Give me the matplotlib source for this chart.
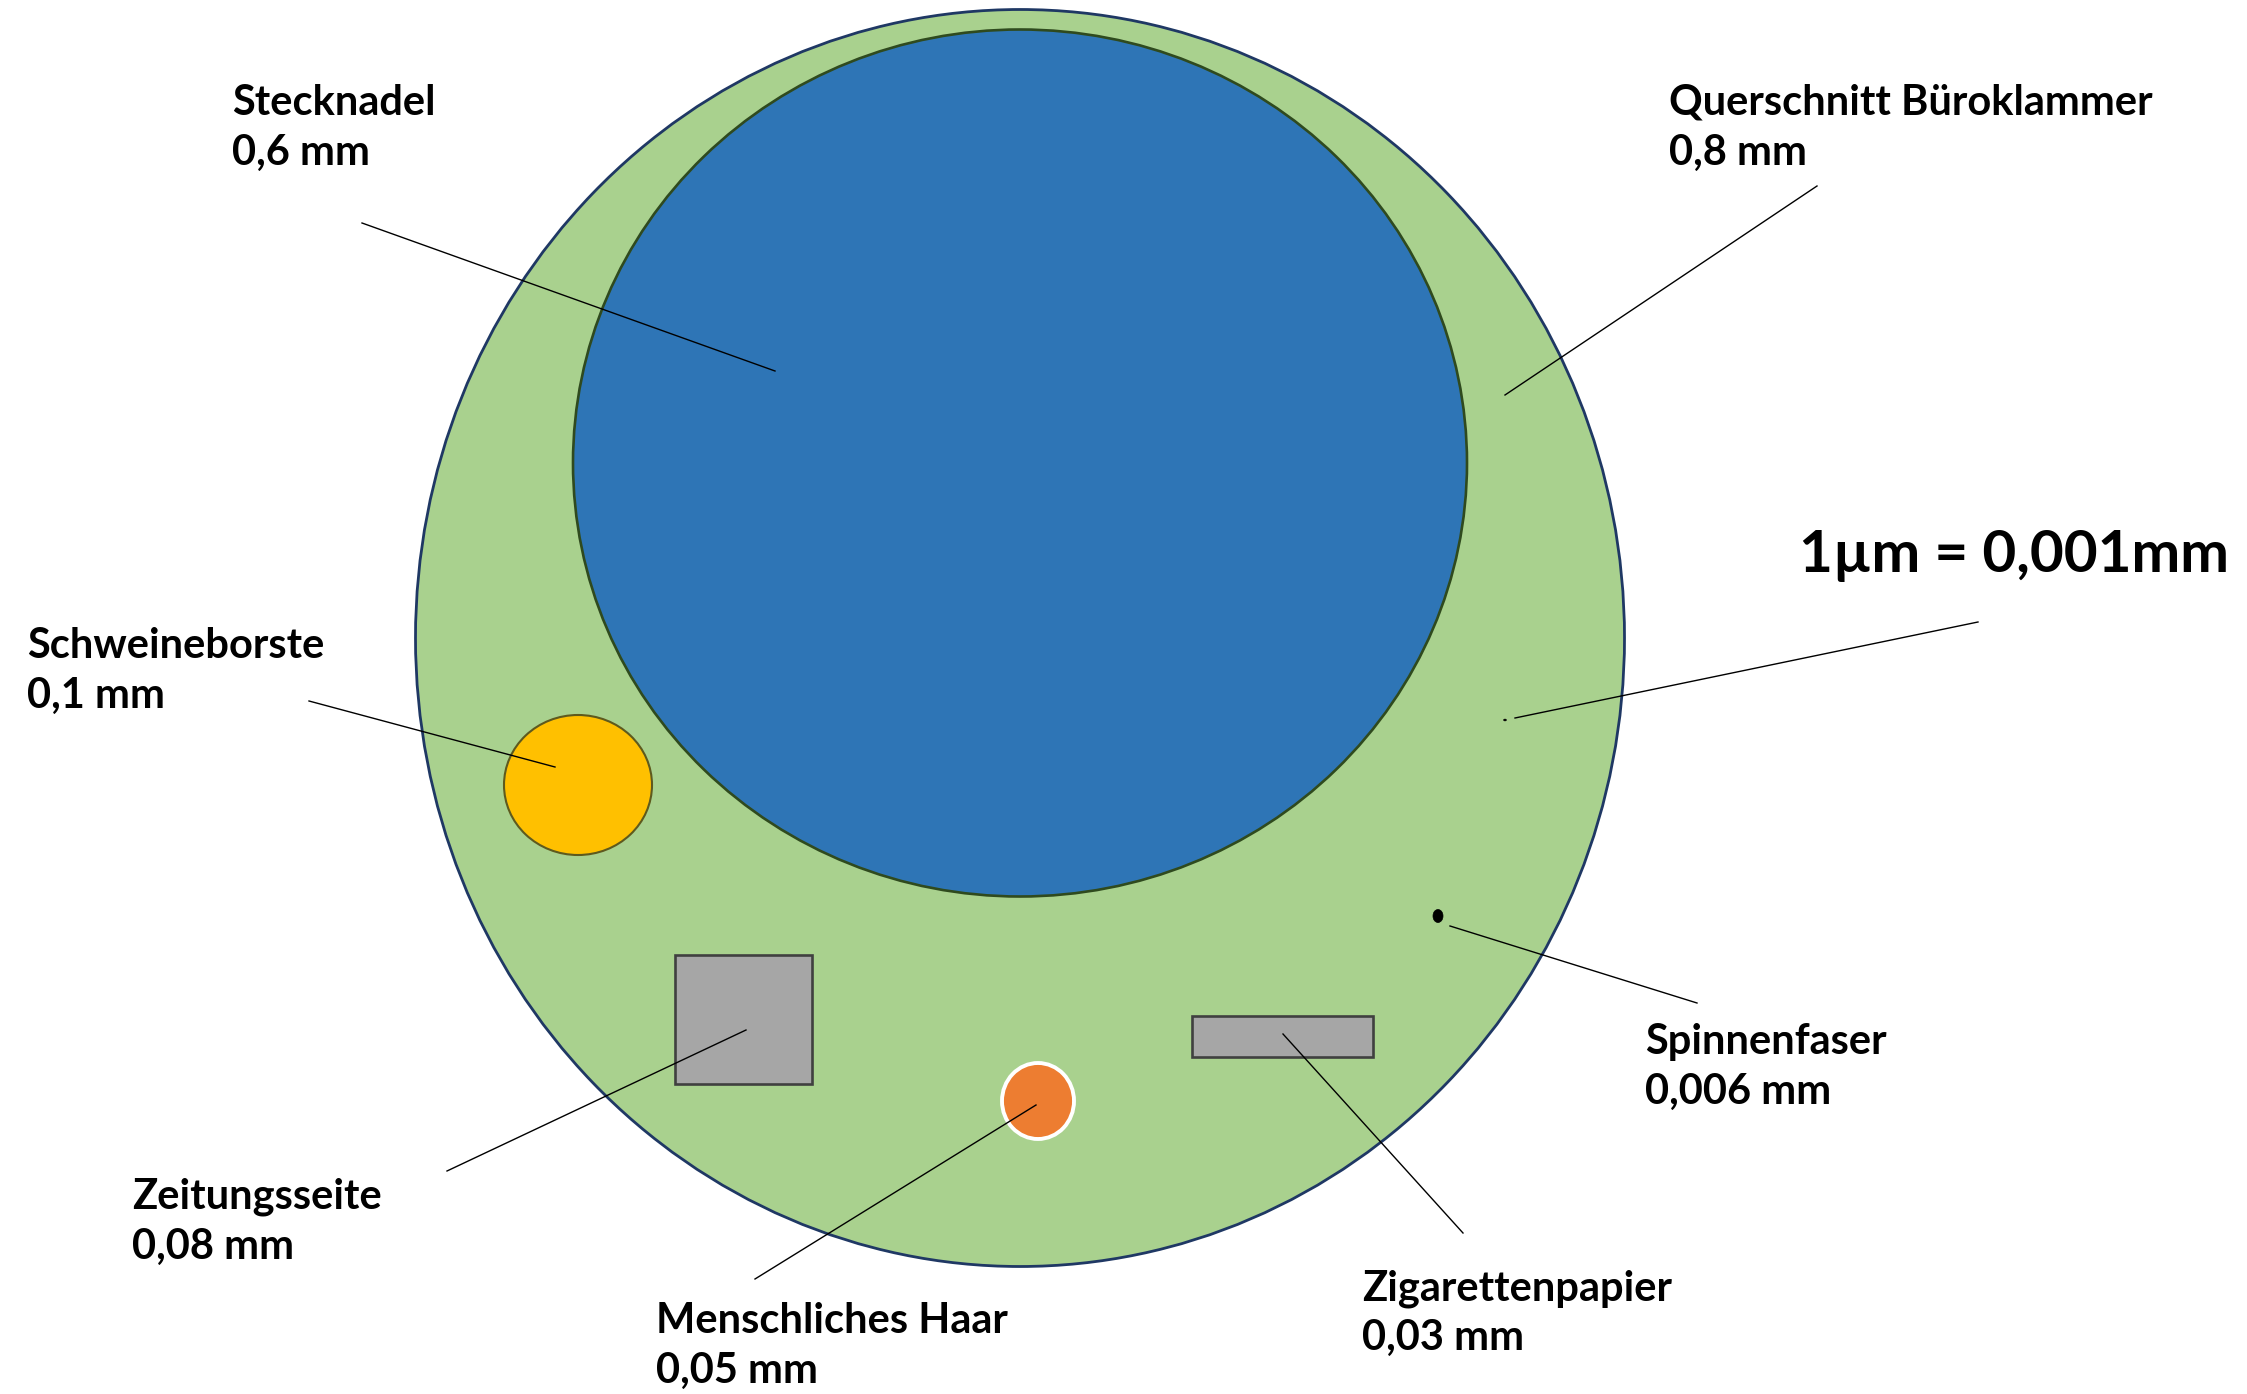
import matplotlib.pyplot as plt
from matplotlib.patches import Ellipse, Rectangle

# labels and values (German infographic: diameters / thickness)
names = ['Stecknadel', 'Querschnitt Büroklammer', 'Schweineborste', 'Spinnenfaser',
         'Zeitungsseite', 'Menschliches Haar', 'Zigarettenpapier']
sizes = ['0,6 mm', '0,8 mm', '0,1 mm', '0,006 mm', '0,08 mm', '0,05 mm', '0,03 mm']
scale_note = '1µm = 0,001mm'

# layout in pixel coords of the 2247x1394 canvas
label_xy = [(232, 115), (1669, 115), (27, 658), (1645, 1054),
            (132, 1209), (656, 1333), (1362, 1300)]
leaders = [((362, 223), (775, 371)),
           ((1817, 186), (1505, 395)),
           ((309, 701), (555, 767)),
           ((1450, 926), (1697, 1003)),
           ((447, 1171), (746, 1030)),
           ((755, 1279), (1036, 1105)),
           ((1463, 1233), (1283, 1034))]
note_xy = (1799, 572)
note_leader = ((1978, 622), (1515, 718))

fig = plt.figure(figsize=(22.47, 13.94), dpi=100)
ax = fig.add_axes([0, 0, 1, 1])
ax.set_xlim(0, 2247)
ax.set_ylim(1394, 0)
ax.axis('off')

# paper clip cross section (outer green)
ax.add_patch(Ellipse((1020, 638), 1209, 1257, facecolor='#A9D18E',
                     edgecolor='#1F3864', lw=2.0, zorder=1))
# pin
ax.add_patch(Ellipse((1020, 463), 894, 867, facecolor='#2E75B6',
                     edgecolor='#2F4A1E', lw=1.9, zorder=2))
# pig bristle
ax.add_patch(Ellipse((578, 785), 148, 140, facecolor='#FFC000',
                     edgecolor='#5E5A1E', lw=1.5, zorder=2))
# newspaper
ax.add_patch(Rectangle((675, 955), 137, 129, facecolor='#A6A6A6',
                       edgecolor='#404040', lw=1.9, zorder=2))
# cigarette paper
ax.add_patch(Rectangle((1192, 1016), 181, 41, facecolor='#A6A6A6',
                       edgecolor='#404040', lw=1.9, zorder=2))
# human hair
ax.add_patch(Ellipse((1038, 1101), 72, 76, facecolor='#ED7D31',
                     edgecolor='white', lw=2.8, zorder=2))
# spider silk
ax.add_patch(Ellipse((1438, 916), 10, 13, facecolor='black',
                     edgecolor='black', lw=0.5, zorder=3))
# 1 micrometer
ax.add_patch(Ellipse((1505, 720), 3, 2, facecolor='black',
                     edgecolor='black', lw=0.3, zorder=3))

for (p0, p1) in leaders + [note_leader]:
    ax.plot([p0[0], p1[0]], [p0[1], p1[1]], color='black', lw=1.0, zorder=4)

for name, size, (x, y) in zip(names, sizes, label_xy):
    ax.text(x, y, name, fontsize=30, family='Lato', weight='bold',
            va='baseline', ha='left', color='black')
    ax.text(x, y + 50, size, fontsize=30, family='Lato', weight='bold',
            va='baseline', ha='left', color='black')

ax.text(note_xy[0], note_xy[1], scale_note, fontsize=42, family='Lato',
        weight='bold', va='baseline', ha='left', color='black')

fig.savefig('out.png', dpi=100)
